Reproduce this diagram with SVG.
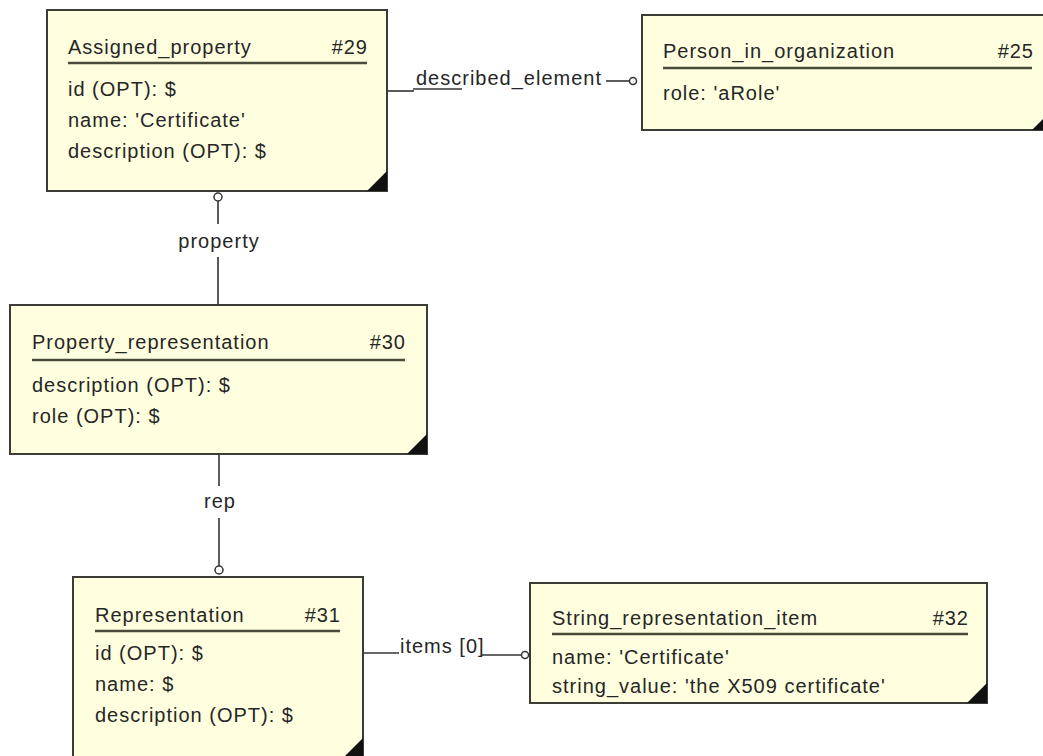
<svg xmlns="http://www.w3.org/2000/svg" width="1043" height="756" viewBox="0 0 1043 756">
  <style>
    .box { fill: #ffffdf; stroke: #3c3c36; stroke-width: 2; }
    .corner { fill: #111; }
    .rule { stroke: #4a4a3c; stroke-width: 2.5; }
    .t { font-family: "Liberation Sans", Arial, sans-serif; font-size: 20px; letter-spacing: 1px; fill: #262626; }
    .end { text-anchor: end; }
    .mid { text-anchor: middle; }
    .wire { stroke: #333; stroke-width: 1.6; fill: none; }
    .ring { fill: #fff; stroke: #333; stroke-width: 1.5; }
  </style>
  <rect width="1043" height="756" fill="#fff"/>

  <g id="connectors">
    <!-- described_element -->
    <line class="wire" x1="387" y1="91" x2="414" y2="91"/>
    <line class="wire" x1="413" y1="89" x2="462" y2="89"/>
    <line class="wire" x1="606" y1="81" x2="629" y2="81"/>
    <circle class="ring" cx="633" cy="81" r="3.5"/>
    <text class="t" x="416" y="85">described_element</text>
    <!-- property -->
    <circle class="ring" cx="218" cy="197" r="4"/>
    <line class="wire" x1="218" y1="201" x2="218" y2="224"/>
    <line class="wire" x1="218" y1="257" x2="218" y2="305"/>
    <text class="t mid" x="219" y="248">property</text>
    <!-- rep -->
    <line class="wire" x1="219" y1="455" x2="219" y2="486"/>
    <line class="wire" x1="219" y1="518" x2="219" y2="566"/>
    <circle class="ring" cx="219" cy="570" r="4"/>
    <text class="t mid" x="220" y="508">rep</text>
    <!-- items [0] -->
    <line class="wire" x1="363" y1="653" x2="399" y2="653"/>
    <line class="wire" x1="482" y1="655" x2="521" y2="655"/>
    <circle class="ring" cx="525" cy="655" r="3.5"/>
    <text class="t" x="400" y="653">items [0]</text>
  </g>

  <g id="assigned_property">
    <rect class="box" x="47" y="10" width="340" height="181"/>
    <polygon class="corner" points="367,191 387,191 387,171"/>
    <text class="t" x="68" y="54">Assigned_property</text>
    <text class="t end" x="368" y="54">#29</text>
    <line class="rule" x1="68" y1="63" x2="367" y2="63"/>
    <text class="t" x="68" y="96">id (OPT): $</text>
    <text class="t" x="68" y="127">name: 'Certificate'</text>
    <text class="t" x="68" y="158">description (OPT): $</text>
  </g>

  <g id="person_in_organization">
    <rect class="box" x="642" y="15" width="410" height="115"/>
    <polygon class="corner" points="1032,130 1052,130 1052,110"/>
    <text class="t" x="663" y="58">Person_in_organization</text>
    <text class="t end" x="1034" y="58">#25</text>
    <line class="rule" x1="663" y1="68" x2="1032" y2="68"/>
    <text class="t" x="663" y="100">role: 'aRole'</text>
  </g>

  <g id="property_representation">
    <rect class="box" x="10" y="305" width="417" height="149"/>
    <polygon class="corner" points="407,454 427,454 427,434"/>
    <text class="t" x="32" y="349">Property_representation</text>
    <text class="t end" x="406" y="349">#30</text>
    <line class="rule" x1="32" y1="360" x2="405" y2="360"/>
    <text class="t" x="32" y="392">description (OPT): $</text>
    <text class="t" x="32" y="423">role (OPT): $</text>
  </g>

  <g id="representation">
    <rect class="box" x="73" y="577" width="290" height="181"/>
    <polygon class="corner" points="343,758 363,758 363,738"/>
    <text class="t" x="95" y="622">Representation</text>
    <text class="t end" x="341" y="622">#31</text>
    <line class="rule" x1="95" y1="631" x2="340" y2="631"/>
    <text class="t" x="95" y="660">id (OPT): $</text>
    <text class="t" x="95" y="691">name: $</text>
    <text class="t" x="95" y="722">description (OPT): $</text>
  </g>

  <g id="string_representation_item">
    <rect class="box" x="530" y="583" width="457" height="120"/>
    <polygon class="corner" points="967,703 987,703 987,683"/>
    <text class="t" x="552" y="625">String_representation_item</text>
    <text class="t end" x="969" y="625">#32</text>
    <line class="rule" x1="552" y1="634" x2="968" y2="634"/>
    <text class="t" x="552" y="664">name: 'Certificate'</text>
    <text class="t" x="552" y="693">string_value: 'the X509 certificate'</text>
  </g>
</svg>
